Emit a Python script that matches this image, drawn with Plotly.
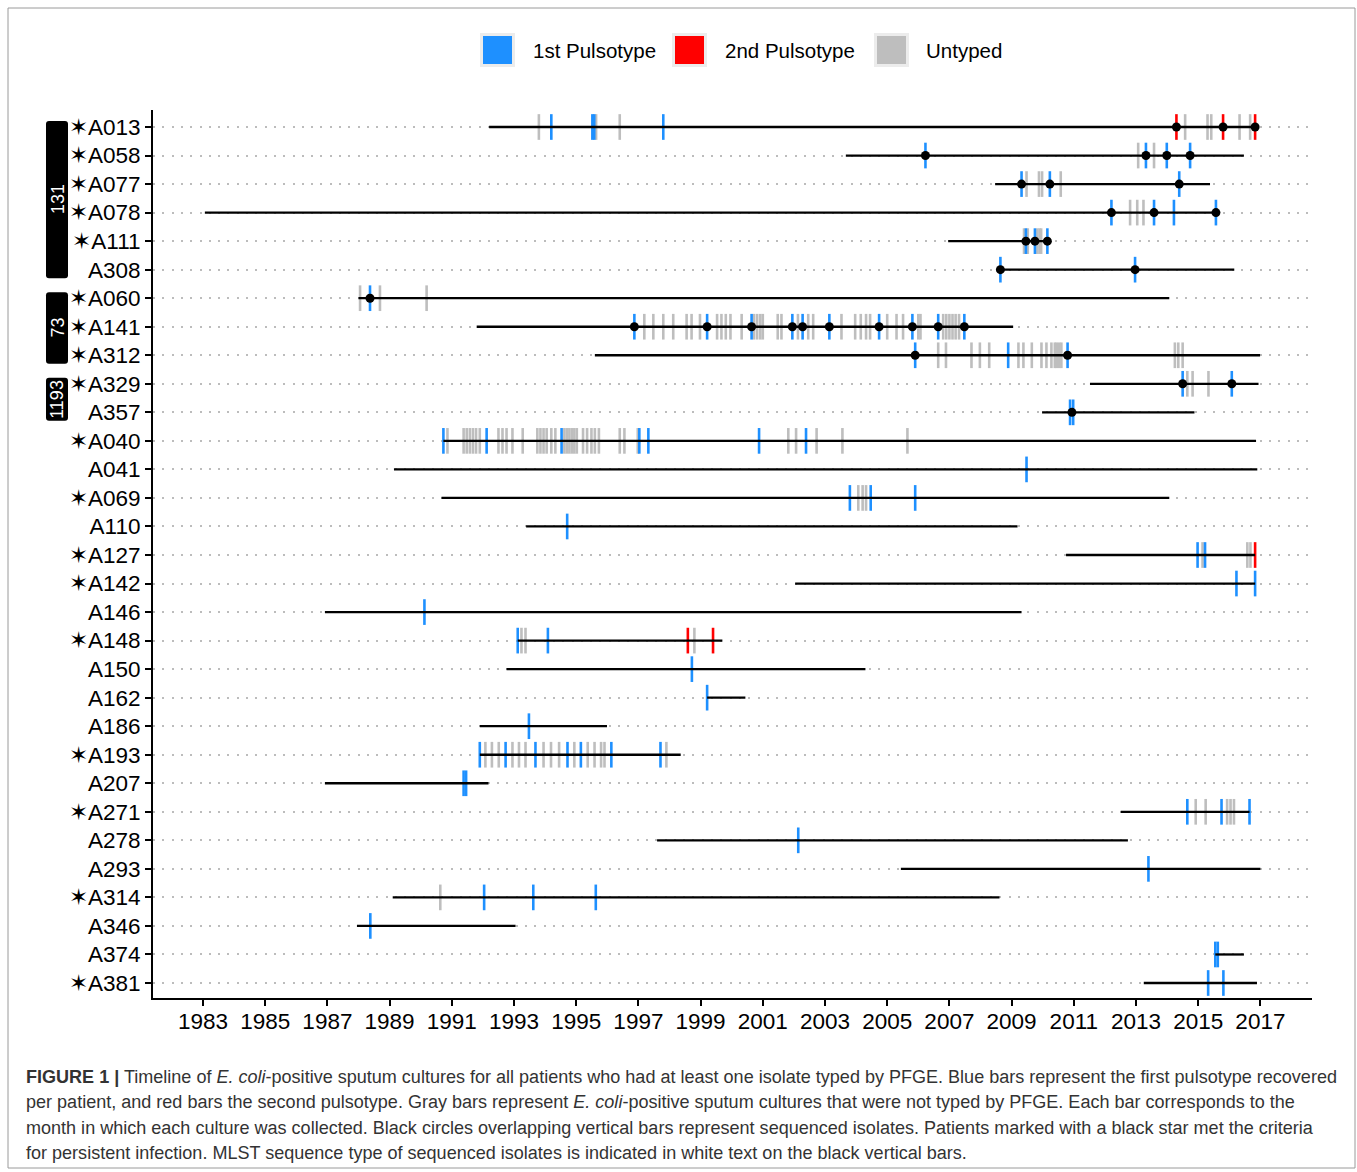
import plotly.graph_objects as go

# ---------------- data ----------------
patients = ["A013", "A058", "A077", "A078", "A111", "A308", "A060", "A141", "A312",
            "A329", "A357", "A040", "A041", "A069", "A110", "A127", "A142", "A146",
            "A148", "A150", "A162", "A186", "A193", "A207", "A271", "A278", "A293",
            "A314", "A346", "A374", "A381"]
persistent = [1, 1, 1, 1, 1, 0, 1, 1, 1,
              1, 0, 1, 0, 1, 0, 1, 1, 0,
              1, 0, 0, 0, 1, 0, 1, 0, 0,
              1, 0, 0, 1]
culture_start = [1992.2, 2003.67, 2008.47, 1983.06, 2006.96, 2008.64, 1988.0, 1991.8, 1995.6,
                 2011.52, 2009.98, 1990.73, 1989.14, 1990.67, 1993.39, 2010.75, 2002.04, 1986.92,
                 1993.12, 1992.76, 1999.21, 1991.9, 1991.9, 1986.92, 2012.51, 1997.6, 2005.44,
                 1989.1, 1987.95, 2015.55, 2013.25]
culture_end = [2016.83, 2016.47, 2015.38, 2015.57, 2010.15, 2016.16, 2014.07, 2009.05, 2016.99,
               2016.94, 2014.88, 2016.86, 2016.9, 2014.07, 2009.19, 2016.83, 2016.83, 2009.32,
               1999.7, 2004.3, 2000.44, 1995.99, 1998.36, 1992.18, 2016.65, 2012.74, 2017.0,
               2008.61, 1993.05, 2016.47, 2016.89]
first_pulsotype = [
    [1994.2, 1995.52, 1995.58, 1997.8],
    [2006.23, 2013.32, 2013.99, 2014.74],
    [2009.32, 2010.23, 2014.39],
    [2012.21, 2013.58, 2014.22, 2015.57],
    [2009.46, 2009.75, 2010.15],
    [2008.64, 2012.97],
    [1988.37],
    [1996.87, 1999.21, 2000.64, 2001.95, 2002.28, 2003.14, 2004.74, 2005.81, 2006.64, 2007.48],
    [2005.9, 2008.89, 2010.8],
    [2014.5, 2016.08],
    [2010.88, 2010.98],
    [1990.73, 1992.12, 1994.53, 1997.03, 1997.32, 2000.88, 2002.39],
    [2009.48],
    [2003.8, 2004.47, 2005.9],
    [1994.71],
    [2014.98, 2015.22],
    [2016.23, 2016.83],
    [1990.12],
    [1993.12, 1994.09],
    [1998.72],
    [1999.21],
    [1993.48],
    [1991.9, 1992.73, 1993.69, 1994.72, 1995.15, 1996.13, 1997.71],
    [1991.38, 1991.46],
    [2014.65, 2015.75, 2016.65],
    [2002.14],
    [2013.4],
    [1992.04, 1993.62, 1995.63],
    [1988.38],
    [2015.55, 2015.63],
    [2015.32, 2015.81],
]
second_pulsotype = [
    [2014.3, 2015.8, 2016.83], [], [], [], [], [], [], [], [],
    [], [], [], [], [], [], [2016.83], [], [],
    [1998.59, 1999.4], [], [], [], [], [], [], [], [],
    [], [], [], [],
]
untyped = [
    [1993.8, 1995.64, 1996.4, 2014.58, 2015.3, 2015.42, 2016.33, 2016.67],
    [2013.07, 2013.58],
    [2009.48, 2009.88, 2009.98, 2010.58],
    [2012.81, 2013.04, 2013.24],
    [2009.4, 2009.52, 2009.83, 2009.9, 2009.95],
    [],
    [1988.05, 1988.69, 1990.19],
    [1997.19, 1997.48, 1997.8, 1998.12, 1998.55, 1998.71, 1998.98, 1999.53, 1999.67, 1999.81,
     1999.96, 2000.32, 2000.72, 2000.82, 2000.92, 2001.0, 2001.48, 2001.6, 2002.13, 2002.46,
     2002.62, 2003.53, 2003.97, 2004.15, 2004.32, 2004.45, 2005.0, 2005.3, 2005.51, 2006.0,
     2006.07, 2006.8, 2006.9, 2007.0, 2007.1, 2007.2, 2007.31],
    [2006.64, 2006.89, 2007.71, 2007.98, 2008.28, 2009.22, 2009.38, 2009.65, 2009.96, 2010.12,
     2010.28, 2010.39, 2010.45, 2010.53, 2010.6, 2014.25, 2014.36, 2014.5],
    [2014.65, 2014.82, 2015.33],
    [],
    [1990.86, 1991.38, 1991.48, 1991.58, 1991.68, 1991.78, 1991.9, 1992.5, 1992.63, 1992.76,
     1992.95, 1993.28, 1993.75, 1993.85, 1993.95, 1994.05, 1994.2, 1994.33, 1994.62, 1994.7,
     1994.78, 1994.86, 1994.94, 1995.02, 1995.22, 1995.35, 1995.49, 1995.6, 1995.73, 1996.4,
     1996.55, 1996.98, 2001.82, 2002.07, 2002.73, 2003.56, 2005.65],
    [],
    [2004.07, 2004.21, 2004.32],
    [],
    [2015.14, 2016.58, 2016.68],
    [],
    [],
    [1993.24, 1993.37, 1998.8],
    [],
    [],
    [],
    [1992.08, 1992.29, 1992.51, 1992.95, 1993.16, 1993.37, 1993.95, 1994.19, 1994.45, 1994.94,
     1995.37, 1995.59, 1995.8, 1995.91, 1997.9],
    [],
    [2014.92, 2015.24, 2015.93, 2016.04, 2016.15],
    [],
    [],
    [1990.63],
    [],
    [],
    [],
]
sequenced = [
    [2014.3, 2015.8, 2016.83],
    [2006.23, 2013.32, 2013.99, 2014.74],
    [2009.32, 2010.23, 2014.39],
    [2012.21, 2013.58, 2015.57],
    [2009.46, 2009.75, 2010.15],
    [2008.64, 2012.97],
    [1988.37],
    [1996.87, 1999.21, 2000.64, 2001.95, 2002.28, 2003.14, 2004.74, 2005.81, 2006.64, 2007.48],
    [2005.9, 2010.8],
    [2014.5, 2016.08],
    [2010.94],
    [], [], [], [], [], [], [], [], [], [], [], [], [], [], [], [], [], [], [], [],
]
st_labels = ["131", "73", "1193"]
st_first_patient = ["A013", "A060", "A329"]
st_last_patient = ["A308", "A312", "A357"]
year_ticks = [1983, 1985, 1987, 1989, 1991, 1993, 1995, 1997, 1999, 2001,
              2003, 2005, 2007, 2009, 2011, 2013, 2015, 2017]
legend_labels = ["1st Pulsotype", "2nd Pulsotype", "Untyped"]

# ---------------- styling ----------------
BLUE = "#1E90FF"
RED = "#FF0000"
GRAY = "#BEBEBE"
FONT = "Liberation Sans, Arial, Helvetica, sans-serif"
W_FIG, H_FIG = 1357, 1172
L, R, T, B = 153, 1312, 110, 998
PW, PH = R - L, B - T
HALF = 0.45


def px(xp):
    return (xp - L) / PW


def py(yp):
    return (B - yp) / PH


rows = {p: i for i, p in enumerate(patients)}

fig = go.Figure()


def bar_trace(lists, color, name):
    xs, ys = [], []
    for i, vals in enumerate(lists):
        for v in vals:
            xs += [v, v, None]
            ys += [i - HALF, i + HALF, None]
    return go.Scatter(x=xs, y=ys, mode="lines", line=dict(color=color, width=2.6),
                      name=name, showlegend=False, hoverinfo="skip")


fig.add_trace(bar_trace(untyped, GRAY, "Untyped"))
fig.add_trace(bar_trace(first_pulsotype, BLUE, "1st Pulsotype"))
fig.add_trace(bar_trace(second_pulsotype, RED, "2nd Pulsotype"))

lx, ly = [], []
for i, (s, e) in enumerate(zip(culture_start, culture_end)):
    lx += [s, e, None]
    ly += [i, i, None]
fig.add_trace(go.Scatter(x=lx, y=ly, mode="lines", line=dict(color="black", width=2.3),
                         showlegend=False, hoverinfo="skip"))

dx, dy = [], []
for i, vals in enumerate(sequenced):
    for v in vals:
        dx.append(v)
        dy.append(i)
fig.add_trace(go.Scatter(x=dx, y=dy, mode="markers",
                         marker=dict(color="black", size=9, line=dict(width=0)),
                         showlegend=False, hoverinfo="skip"))

ticktext = [("\u2736" if s else "") + p for p, s in zip(patients, persistent)]

n = len(patients)
ROW0 = 127
row_px = (983 - ROW0) / (n - 1)
y_top = -(ROW0 - T) / row_px
y_bot = (n - 1) + (B - 983) / row_px
x_left = 1983 - (203 - L) / 31.1
x_right = 1983 + (R - 203) / 31.1

fig.update_layout(
    width=W_FIG, height=H_FIG,
    margin=dict(l=L, r=W_FIG - R, t=T, b=H_FIG - B),
    paper_bgcolor="white", plot_bgcolor="white",
    font=dict(family=FONT, color="black"),
    showlegend=False,
    xaxis=dict(range=[x_left, x_right], tickmode="array", tickvals=year_ticks,
               ticktext=[str(t) for t in year_ticks], showgrid=False, zeroline=False,
               showline=True, linecolor="black", linewidth=2, ticks="outside",
               ticklen=6, tickwidth=2, tickcolor="black", ticklabelstandoff=-4,
               tickfont=dict(size=22.5, color="black", family=FONT)),
    yaxis=dict(range=[y_bot, y_top], tickmode="array", tickvals=list(range(n)),
               ticktext=ticktext, showgrid=True, gridcolor="#bcbcbc", griddash="2px,7.3px",
               gridwidth=2, zeroline=False, showline=True, linecolor="black",
               linewidth=2, ticks="outside", ticklen=6, tickwidth=2, tickcolor="black",
               tickfont=dict(size=22.5, color="black", family=FONT)),
)

shapes = []
annotations = []


def rounded_rect(x0, x1, y0, y1, r):
    # pixel coords -> paper path with rounded corners
    pts = []
    def P(xp, yp):
        return f"{px(xp):.6f},{py(yp):.6f}"
    path = (f"M {P(x0 + r, y0)} L {P(x1 - r, y0)} Q {P(x1, y0)} {P(x1, y0 + r)} "
            f"L {P(x1, y1 - r)} Q {P(x1, y1)} {P(x1 - r, y1)} "
            f"L {P(x0 + r, y1)} Q {P(x0, y1)} {P(x0, y1 - r)} "
            f"L {P(x0, y0 + r)} Q {P(x0, y0)} {P(x0 + r, y0)} Z")
    return path


# ST group boxes
for lab, a, b in zip(st_labels, st_first_patient, st_last_patient):
    top_px = ROW0 + rows[a] * row_px - 6
    bot_px = ROW0 + rows[b] * row_px + 8.5
    shapes.append(dict(type="path", xref="paper", yref="paper",
                       path=rounded_rect(46, 68, top_px, bot_px, 3),
                       fillcolor="black", line=dict(width=0)))
    annotations.append(dict(xref="paper", yref="paper", x=px(57.5), y=py((top_px + bot_px) / 2),
                            text=lab, showarrow=False, textangle=-90,
                            xanchor="center", yanchor="middle",
                            font=dict(color="white", size=18, family=FONT)))

# legend
legend_colors = [BLUE, RED, GRAY]
key_x = [480, 672, 874]
text_x = [531, 723, 924]
for c, kx, tx, lab in zip(legend_colors, key_x, text_x, legend_labels):
    shapes.append(dict(type="rect", xref="paper", yref="paper", x0=px(kx), x1=px(kx + 35),
                       y0=py(67), y1=py(33), fillcolor="#ececec", line=dict(width=0)))
    shapes.append(dict(type="rect", xref="paper", yref="paper", x0=px(kx + 3), x1=px(kx + 32),
                       y0=py(64), y1=py(36), fillcolor=c, line=dict(width=0)))
    annotations.append(dict(xref="paper", yref="paper", x=px(tx), y=py(50), text=lab,
                            showarrow=False, xanchor="left", yanchor="middle",
                            font=dict(size=20.5, color="black", family=FONT)))

# outer frame
shapes.append(dict(type="rect", xref="paper", yref="paper", x0=px(8), x1=px(1355),
                   y0=py(1168), y1=py(8), line=dict(color="#9a9a9a", width=1),
                   fillcolor="rgba(0,0,0,0)"))

caption_lines = [
    "<b>FIGURE 1 |</b> Timeline of <i>E. coli</i>-positive sputum cultures for all patients who had at least one isolate typed by PFGE. Blue bars represent the first pulsotype recovered",
    "per patient, and red bars the second pulsotype. Gray bars represent <i>E. coli</i>-positive sputum cultures that were not typed by PFGE. Each bar corresponds to the",
    "month in which each culture was collected. Black circles overlapping vertical bars represent sequenced isolates. Patients marked with a black star met the criteria",
    "for persistent infection. MLST sequence type of sequenced isolates is indicated in white text on the black vertical bars.",
]
for k, line in enumerate(caption_lines):
    annotations.append(dict(xref="paper", yref="paper", x=px(24), y=py(1077 + 25.3 * k),
                            text=line, showarrow=False, xanchor="left", yanchor="middle",
                            font=dict(size=18.05, color="#333333", family=FONT)))

fig.update_layout(shapes=shapes, annotations=annotations)

fig.write_html("out.html", config={"displayModeBar": False},
               post_script="document.body.style.margin='0';document.body.style.overflow='hidden';")
